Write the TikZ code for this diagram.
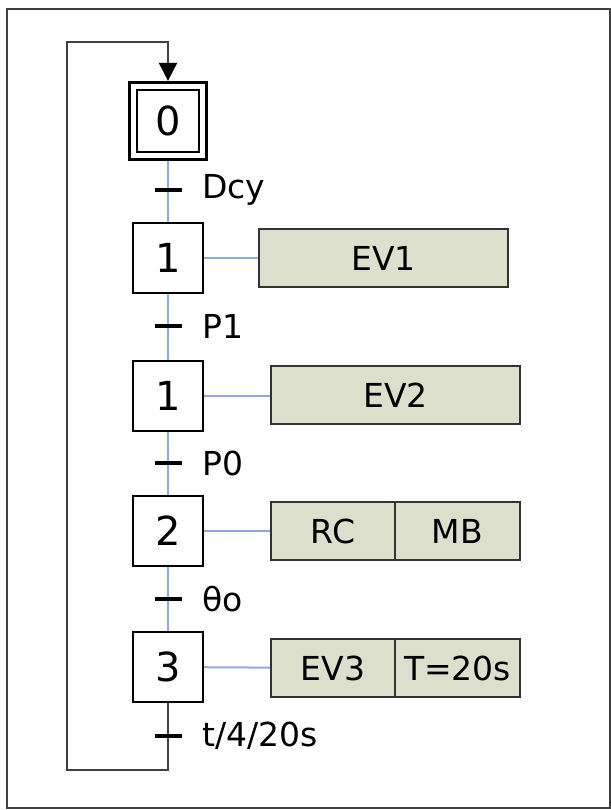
\documentclass[tikz,border=0pt]{standalone}
\usepackage{fontspec}
\setmainfont{DejaVu Sans}
\usetikzlibrary{arrows.meta,backgrounds}
\definecolor{linkblue}{RGB}{142,170,219}
\definecolor{actfill}{RGB}{220,223,203}
\begin{document}
\begin{tikzpicture}[x=0.5pt,y=-0.5pt,
  etape/.style={draw,line width=1pt,rectangle,minimum size=35pt,inner sep=0pt,font=\fontsize{20}{20}\selectfont},
  initetape/.style={etape,line width=1.6pt,minimum size=38.5pt},
  recept/.style={fill=black,rectangle,inner sep=0pt,minimum width=13.5pt,minimum height=1.6pt,
    label={[font=\fontsize{16.5}{16.5}\selectfont,inner sep=0pt,label distance=10pt]right:#1}},
  action/.style={draw=black!80,line width=1pt,fill=actfill,rectangle,outer sep=0pt,minimum height=29pt,inner sep=0pt,font=\fontsize{16.5}{16.5}\selectfont},
  liaison/.style={linkblue,line width=1pt},
  boucle/.style={black!75,line width=0.9pt}]
\useasboundingbox (0,0) rectangle (611,810);
\draw[black!75,line width=1.2pt] (7,9) rectangle (610,808);
% etapes
\node[initetape] (E0) at (168,121) {0};
\draw[line width=0.8pt] ([shift={(4.5pt,-4.5pt)}]E0.north west) rectangle ([shift={(-4.5pt,4.5pt)}]E0.south east);
\node[etape] (E1) at (168,258) {1};
\node[etape] (E1b) at (168,396) {1};
\node[etape] (E2) at (168,531) {2};
\node[etape] (E3) at (168,667) {3};
% receptivites
\node[recept=Dcy] (T0) at (168,190) {};
\node[recept=P1] (T1) at (168,326) {};
\node[recept=P0] (T2) at (168,463) {};
\node[recept=θo] (T3) at (168,599) {};
\node[recept=t/4/20s] (T4) at (168,736) {};
% actions
\node[action,minimum width=124.5pt,anchor=west] (EV1) at (259,258) {EV1};
\node[action,minimum width=124.5pt,anchor=west] (EV2) at (271,395) {EV2};
\node[action,minimum width=62pt,anchor=west] (RC) at (271,531) {RC};
\node[action,minimum width=62.5pt,anchor=west] (MB) at (RC.east) {MB};
\node[action,minimum width=62pt,anchor=west] (EV3) at (271,668) {EV3};
\node[action,minimum width=62.5pt,anchor=west] (Tmp) at (EV3.east) {T=20s};
% liaisons
\begin{scope}[on background layer]
\draw[liaison] (E0) -- (T0.center) -- (E1);
\draw[liaison] (E1) -- (T1.center) -- (E1b);
\draw[liaison] (E1b) -- (T2.center) -- (E2);
\draw[liaison] (E2) -- (T3.center) -- (E3);
\draw[liaison] (E1) -- (EV1);
\draw[liaison] (E1b.east) -- (E1b.east -| EV2.west);
\draw[liaison] (E2) -- (RC);
\draw[liaison] (E3) -- (EV3);
% bouclage
\coordinate (Bb) at (67,770);
\coordinate (Bh) at (67,42);
\draw[boucle,-{Triangle[width=9pt,length=9pt,color=black]}] (E3) -- (T4.center) |- (Bb) -- (Bh) -| (E0.north);
\end{scope}
\end{tikzpicture}
\end{document}
